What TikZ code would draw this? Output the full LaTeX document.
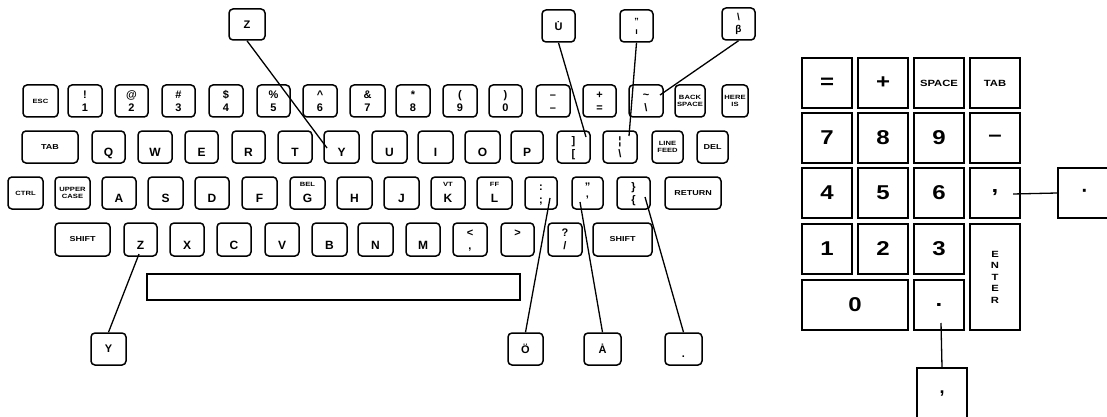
\documentclass[tikz,border=0pt]{standalone}
\usepackage{fontspec}
\setmainfont{Liberation Sans}
\newfontfamily\wideface[FakeStretch=1.25]{Liberation Sans}
\newfontfamily\padface[FakeStretch=1.2]{Liberation Sans}
\newcommand\Lt{\bfseries\fontsize{12}{12}\selectfont}
\newcommand\Dt{\bfseries\fontsize{11}{11}\selectfont}
\newcommand\Sm{\wideface\bfseries\fontsize{7.2}{8}\selectfont}
\newcommand\Sx{\wideface\bfseries\fontsize{6.1}{7}\selectfont}
\newcommand\Pd{\padface\bfseries\fontsize{20}{20}\selectfont}
\newcommand\Ps{\wideface\bfseries\fontsize{9}{11.5}\selectfont}
\newcommand\Ct{\bfseries\fontsize{11}{12}\selectfont}
\newcommand\kcolon{:}
\usetikzlibrary{calc}
\tikzset{
  keybox/.style={draw, line width=1.5pt, rounded corners=4pt, inner sep=0pt},
  padkey/.style={draw, line width=1.4pt, inner sep=0pt},
  conn/.style={line width=1.3pt},
  lt/.style={font=\Lt, inner sep=0pt, text height=8.6pt, text depth=0pt},
  dt/.style={font=\Dt, inner sep=0pt, text height=7.9pt, text depth=0pt},
  st/.style={font=\Sx, inner sep=0pt, text height=4.4pt, text depth=0pt},
  one/.style={label={[lt,yshift=-5.5pt]center:#1}},
  two/.style n args={2}{label={[dt,yshift=6.5pt]center:#1},label={[dt,yshift=-6.5pt]center:#2}},
  tag/.style={label={[st,yshift=8.5pt]center:#1}},
}
% key without text: name, x1, y1, x2, y2, options
\newcommand\kb[6]{\node[keybox, minimum width={#4-#2}, minimum height={#5-#3}, #6] (#1) at ({(#2+#4)/2},{(#3+#5)/2}) {};}
% key with centred text
\newcommand\kt[7]{\node[keybox, minimum width={#4-#2}, minimum height={#5-#3}, align=center, #6] (#1) at ({(#2+#4)/2},{(#3+#5)/2}) {#7};}
% keypad key: name, cx, cy, w, h, text
\newcommand\pk[6]{\node[padkey, minimum width={#4}, minimum height={#5}, font=\Pd] (#1) at (#2,#3) {#6};}
\begin{document}
\begin{tikzpicture}[x=1pt,y=-1pt]
\path[use as bounding box, clip] (0,0) rectangle (1107,417);
\fill[white] (0,0) rectangle (1107,417);
% ---------- row 1
\kt{kEsc}{23}{85}{58}{117}{font=\Sx}{ESC}
\kb{kOne}{68}{85}{102}{117}{two={!}{1}}
\kb{kTwo}{115}{85}{148}{117}{two={@}{2}}
\kb{kThree}{162}{85}{195}{117}{two={\#}{3}}
\kb{kFour}{209}{85}{243}{117}{two={\$}{4}}
\kb{kFive}{257}{85}{290}{117}{two={\%}{5}}
\kb{kSix}{303}{85}{337}{117}{two={\textasciicircum}{6}}
\kb{kSeven}{350}{85}{385}{117}{two={\&}{7}}
\kb{kEight}{396}{85}{430}{117}{two={*}{8}}
\kb{kNine}{443}{85}{477}{117}{two={(}{9}}
\kb{kZero}{489}{85}{522}{117}{two={)}{0}}
\kb{kMinus}{536}{85}{570}{117}{two={–}{–}}
\kb{kPlus}{583}{85}{616}{117}{two={+}{=}}
\kb{kTilde}{629}{85}{663}{117}{two={\textasciitilde}{\textbackslash}}
\kt{kBack}{675}{85}{705}{117}{font=\Sx}{BACK\\SPACE}
\kt{kHere}{722}{85}{748}{117}{font=\Sx}{HERE\\IS}
% ---------- row 2
\kt{kTab}{22}{131}{78}{163}{font=\Sm}{TAB}
\kb{kQ}{92}{131}{125}{163}{one=Q}
\kb{kW}{138}{131}{172}{163}{one=W}
\kb{kE}{185}{131}{218}{163}{one=E}
\kb{kR}{232}{131}{265}{163}{one=R}
\kb{kT}{278}{131}{312}{163}{one=T}
\kb{kY}{324}{131}{359}{163}{one=Y}
\kb{kU}{372}{131}{407}{163}{one=U}
\kb{kI}{418}{131}{453}{163}{one=I}
\kb{kO}{465}{131}{500}{163}{one=O}
\kb{kP}{511}{131}{543}{163}{one=P}
\kb{kBrack}{557}{131}{590}{163}{two={]}{[}}
\kb{kBar}{603}{131}{637}{163}{two={¦}{\textbackslash}}
\kt{kLf}{652}{131}{683}{163}{font=\Sx}{LINE\\FEED}
\kt{kDel}{697}{131}{728}{163}{font=\Sm}{DEL}
% ---------- row 3
\kt{kCtrl}{8}{177}{43}{209}{font=\Sx}{CTRL}
\kt{kUpper}{55}{177}{90}{209}{font=\Sx}{UPPER\\CASE}
\kb{kA}{102}{177}{136}{209}{one=A}
\kb{kS}{148}{177}{183}{209}{one=S}
\kb{kD}{195}{177}{229}{209}{one=D}
\kb{kF}{242}{177}{277}{209}{one=F}
\kb{kG}{290}{177}{325}{209}{one=G, tag=BEL}
\kb{kH}{337}{177}{372}{209}{one=H}
\kb{kJ}{384}{177}{419}{209}{one=J}
\kb{kK}{431}{177}{465}{209}{one=K, tag=VT}
\kb{kL}{477}{177}{512}{209}{one=L, tag=FF}
\kb{kSemi}{525}{177}{557}{209}{two={\kcolon}{;}}
\kb{kQuote}{572}{177}{603}{209}{two={"}{'}}
\kb{kBrace}{617}{177}{650}{209}{two={\}}{\{}}
\kt{kRet}{665}{177}{721}{209}{font=\Sm}{RETURN}
% ---------- row 4
\kt{kShL}{55}{223}{110}{256}{font=\Sm}{SHIFT}
\kb{kZ}{124}{223}{157}{256}{one=Z}
\kb{kX}{170}{223}{204}{256}{one=X}
\kb{kC}{217}{223}{251}{256}{one=C}
\kb{kV}{265}{223}{299}{256}{one=V}
\kb{kB}{312}{223}{347}{256}{one=B}
\kb{kN}{358}{223}{393}{256}{one=N}
\kb{kM}{406}{223}{440}{256}{one=M}
\kb{kLess}{453}{223}{487}{256}{two={<}{,}}
\kb{kGreater}{501}{223}{534}{256}{label={[dt,yshift=6.5pt]center:>}}
\kb{kSlash}{548}{223}{582}{256}{two={?}{/}}
\kt{kShR}{593}{223}{652}{256}{font=\Sm}{SHIFT}
% space bar
\node[padkey, line width=1.4pt, minimum width=373, minimum height=26] (kSpace) at (333.5,287) {};
% ---------- keypad
\pk{pEq}{827}{83}{50}{50}{=}
\pk{pPlus}{883}{83}{50}{50}{+}
\node[padkey, minimum width=50, minimum height=50, font=\Ps] (pSpace) at (939,83) {SPACE};
\node[padkey, minimum width=50, minimum height=50, font=\Ps] (pTab) at (995,83) {TAB};
\pk{pSeven}{827}{138}{50}{50}{7}
\pk{pEight}{883}{138}{50}{50}{8}
\pk{pNine}{939}{138}{50}{50}{9}
\pk{pMinus}{995}{138}{50}{50}{–}
\pk{pFour}{827}{193}{50}{50}{4}
\pk{pFive}{883}{193}{50}{50}{5}
\pk{pSix}{939}{193}{50}{50}{6}
\pk{pComma}{995}{193}{50}{50}{,}
\pk{pOne}{827}{249}{50}{50}{1}
\pk{pTwo}{883}{249}{50}{50}{2}
\pk{pThree}{939}{249}{50}{50}{3}
\node[padkey, minimum width=50, minimum height=106, font=\Ps, align=center] (pEnter) at (995,277) {E\\N\\T\\E\\R};
\pk{pZero}{855}{305}{106}{50}{0}
\pk{pDot}{939}{305}{50}{50}{.}
% ---------- callouts
\node[keybox, minimum width=36, minimum height=31, font=\Ct] (cZ) at (247,24.5) {Z};
\node[keybox, minimum width=35, minimum height=32, font=\Ct] (cY) at (108.5,349) {Y};
\node[keybox, minimum width=33, minimum height=32, font=\Ct] (cU) at (558.5,26) {\.{U}};
\node[keybox, minimum width=33, minimum height=32, font=\bfseries\fontsize{9}{10}\selectfont, align=center] (cQ) at (636.5,26) {"\\ı};
\node[keybox, minimum width=33, minimum height=32, font=\bfseries\fontsize{10}{12.5}\selectfont, align=center] (cB) at (738.5,24) {\textbackslash\\β};
\node[keybox, minimum width=35, minimum height=32, font=\Ct] (cO) at (525.5,349) {Ö};
\node[keybox, minimum width=37, minimum height=32, font=\Ct] (cA) at (602.5,349) {\.{A}};
\node[keybox, minimum width=37, minimum height=32, font=\Ct, text height=16pt, text depth=0pt] (cDot) at (683.5,349) {.};
\node[padkey, minimum width=54, minimum height=50, font=\bfseries\fontsize{20}{20}\selectfont] (cKd) at (1085,193) {·};
\node[padkey, minimum width=50, minimum height=52, font=\bfseries\fontsize{18}{18}\selectfont] (cKc) at (942,394) {,};
% ---------- connectors
\coordinate (eZ) at (327,148);
\coordinate (eY) at (139,254);
\coordinate (eU) at (586,137);
\coordinate (eQ) at (629,136);
\coordinate (eB) at (660,95);
\coordinate (eO) at (550,198);
\coordinate (eA) at (580,202);
\coordinate (eDot) at (645,197);
\coordinate (eKc) at (1013,194);
\coordinate (eKd) at (941,323);
\draw[conn] (cZ.south) -- (eZ);
\draw[conn] (cY.north) -- (eY);
\draw[conn] (cU.south) -- (eU);
\draw[conn] (cQ.south) -- (eQ);
\draw[conn] (cB.south) -- (eB);
\draw[conn] (cO.north) -- (eO);
\draw[conn] (cA.north) -- (eA);
\draw[conn] (cDot.north) -- (eDot);
\draw[conn] (eKc) -- (cKd.west);
\draw[conn] (eKd) -- (cKc.north);
\end{tikzpicture}
\end{document}
